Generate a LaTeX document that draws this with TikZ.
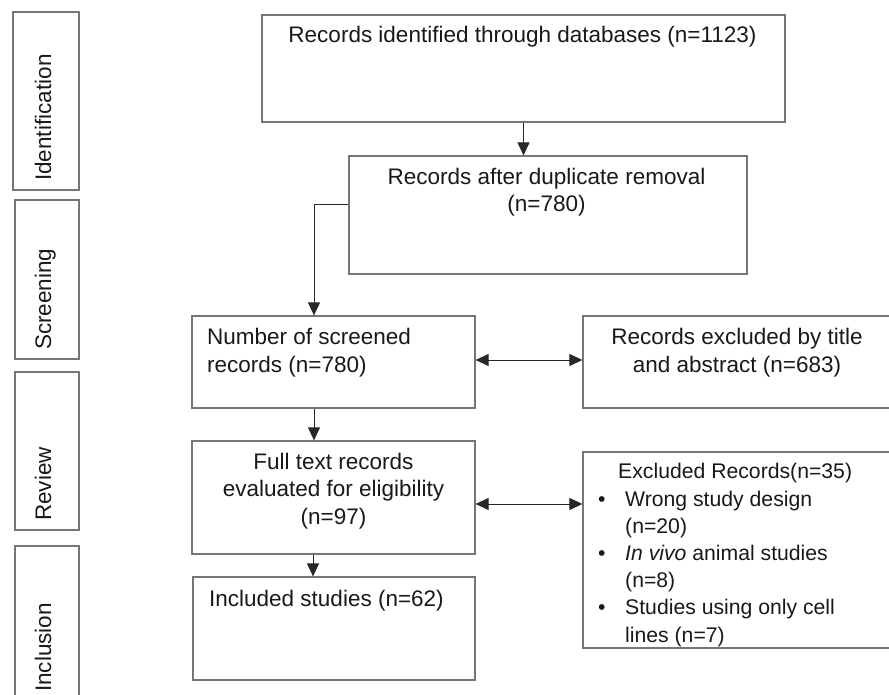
\documentclass[tikz,border=0pt]{standalone}
\usepackage{fontspec}
\setmainfont{Liberation Sans}
\usetikzlibrary{arrows.meta}
\definecolor{boxgray}{RGB}{118,118,118}
\definecolor{arrgray}{RGB}{40,40,40}
\begin{document}
\begin{tikzpicture}[x=1pt,y=-1pt,
  box/.style={draw=boxgray,line width=1.2pt,rectangle,inner sep=0pt},
  txt/.style={inner sep=0pt,text=black!90,font=\fontsize{22.5}{27.3}\selectfont},
  smalltxt/.style={inner sep=0pt,text=black!90,font=\fontsize{21.2}{27.2}\selectfont},
  sidelabel/.style={inner sep=0pt,text=black!90,rotate=90,anchor=base west,font=\fontsize{22.5}{27}\selectfont},
  arr/.style={draw=arrgray,line width=0.9pt,-{Triangle[length=13pt,width=12pt]}},
  darr/.style={draw=arrgray,line width=0.9pt,{Triangle[length=13pt,width=12pt]}-{Triangle[length=13pt,width=12pt]}}]
\useasboundingbox (0,0) rectangle (889,695);
\clip (0,0) rectangle (889,695);
\fill[white] (0,0) rectangle (889,695);

% side stage boxes
\node[box,minimum width=66pt,minimum height=178pt] (idb) at (46,101) {};
\node[box,minimum width=64pt,minimum height=159pt] (scb) at (47,279.5) {};
\node[box,minimum width=64pt,minimum height=158pt] (rvb) at (47,451) {};
\node[box,minimum width=64pt,minimum height=160pt] (inb) at (47,626) {};
\node[sidelabel] (idl) at (51,181) {Identification};
\node[sidelabel] (scl) at (51,350) {Screening};
\node[sidelabel] (rvl) at (51,521) {Review};
\node[sidelabel] (inl) at (51,692) {Inclusion};

% main boxes
\node[box,minimum width=523pt,minimum height=107pt] (rec) at (523.5,68.5) {};
\node[box,minimum width=398pt,minimum height=118pt] (dup) at (548,215) {};
\node[box,minimum width=283pt,minimum height=92pt] (scr) at (333.5,362) {};
\node[box,minimum width=308pt,minimum height=92pt] (ex1) at (737,362) {};
\node[box,minimum width=283pt,minimum height=113pt] (ft) at (333.5,497.5) {};
\node[box,minimum width=282pt,minimum height=103pt] (inc) at (334,628.5) {};
\node[box,minimum width=308pt,minimum height=196pt] (ex2) at (737,550) {};

% texts (anchor=base refers to the last line's baseline)
\node[txt,anchor=base] (rect) at (522.5,43) {Records identified through databases (n=1123)};
\node[txt,anchor=base,align=center] (dupt) at (546.5,212) {Records after duplicate removal\\(n=780)};
\node[txt,anchor=base west,align=left] (scrt) at (207,372) {Number of screened\\records (n=780)};
\node[txt,anchor=base,align=center] (ex1t) at (737,372) {Records excluded by title\\and abstract (n=683)};
\node[txt,anchor=base,align=center] (ftt) at (333.5,524) {Full text records\\evaluated for eligibility\\(n=97)};
\node[txt,anchor=base west] (inct) at (209,606) {Included studies (n=62)};
\node[smalltxt,anchor=base west,align=left] (ex2t) at (598,642) {%
\hspace*{20pt}Excluded Records(n=35)\\
\makebox[27pt][l]{•}Wrong study design\\
\hspace*{27pt}(n=20)\\
\makebox[27pt][l]{•}\textit{In vivo} animal studies\\
\hspace*{27pt}(n=8)\\
\makebox[27pt][l]{•}Studies using only cell\\
\hspace*{27pt}lines (n=7)};

% connectors
\draw[arr] (rec.south) -- (rec.south |- dup.north);
\draw[arr] ([yshift=11pt]dup.west) -| ([xshift=-19.5pt]scr.north);
\draw[arr] ([xshift=-19.5pt]scr.south) -- ([xshift=-19.5pt]ft.north);
\draw[arr] ([xshift=-20.5pt]ft.south) -- ([xshift=-21pt]inc.north);
\draw[darr] ([yshift=2pt]scr.east) -- ([yshift=2pt]scr.east -| ex1.west);
\draw[darr] ([yshift=-6.5pt]ft.east) -- ([yshift=-6.5pt]ft.east -| ex2.west);
\end{tikzpicture}
\end{document}
